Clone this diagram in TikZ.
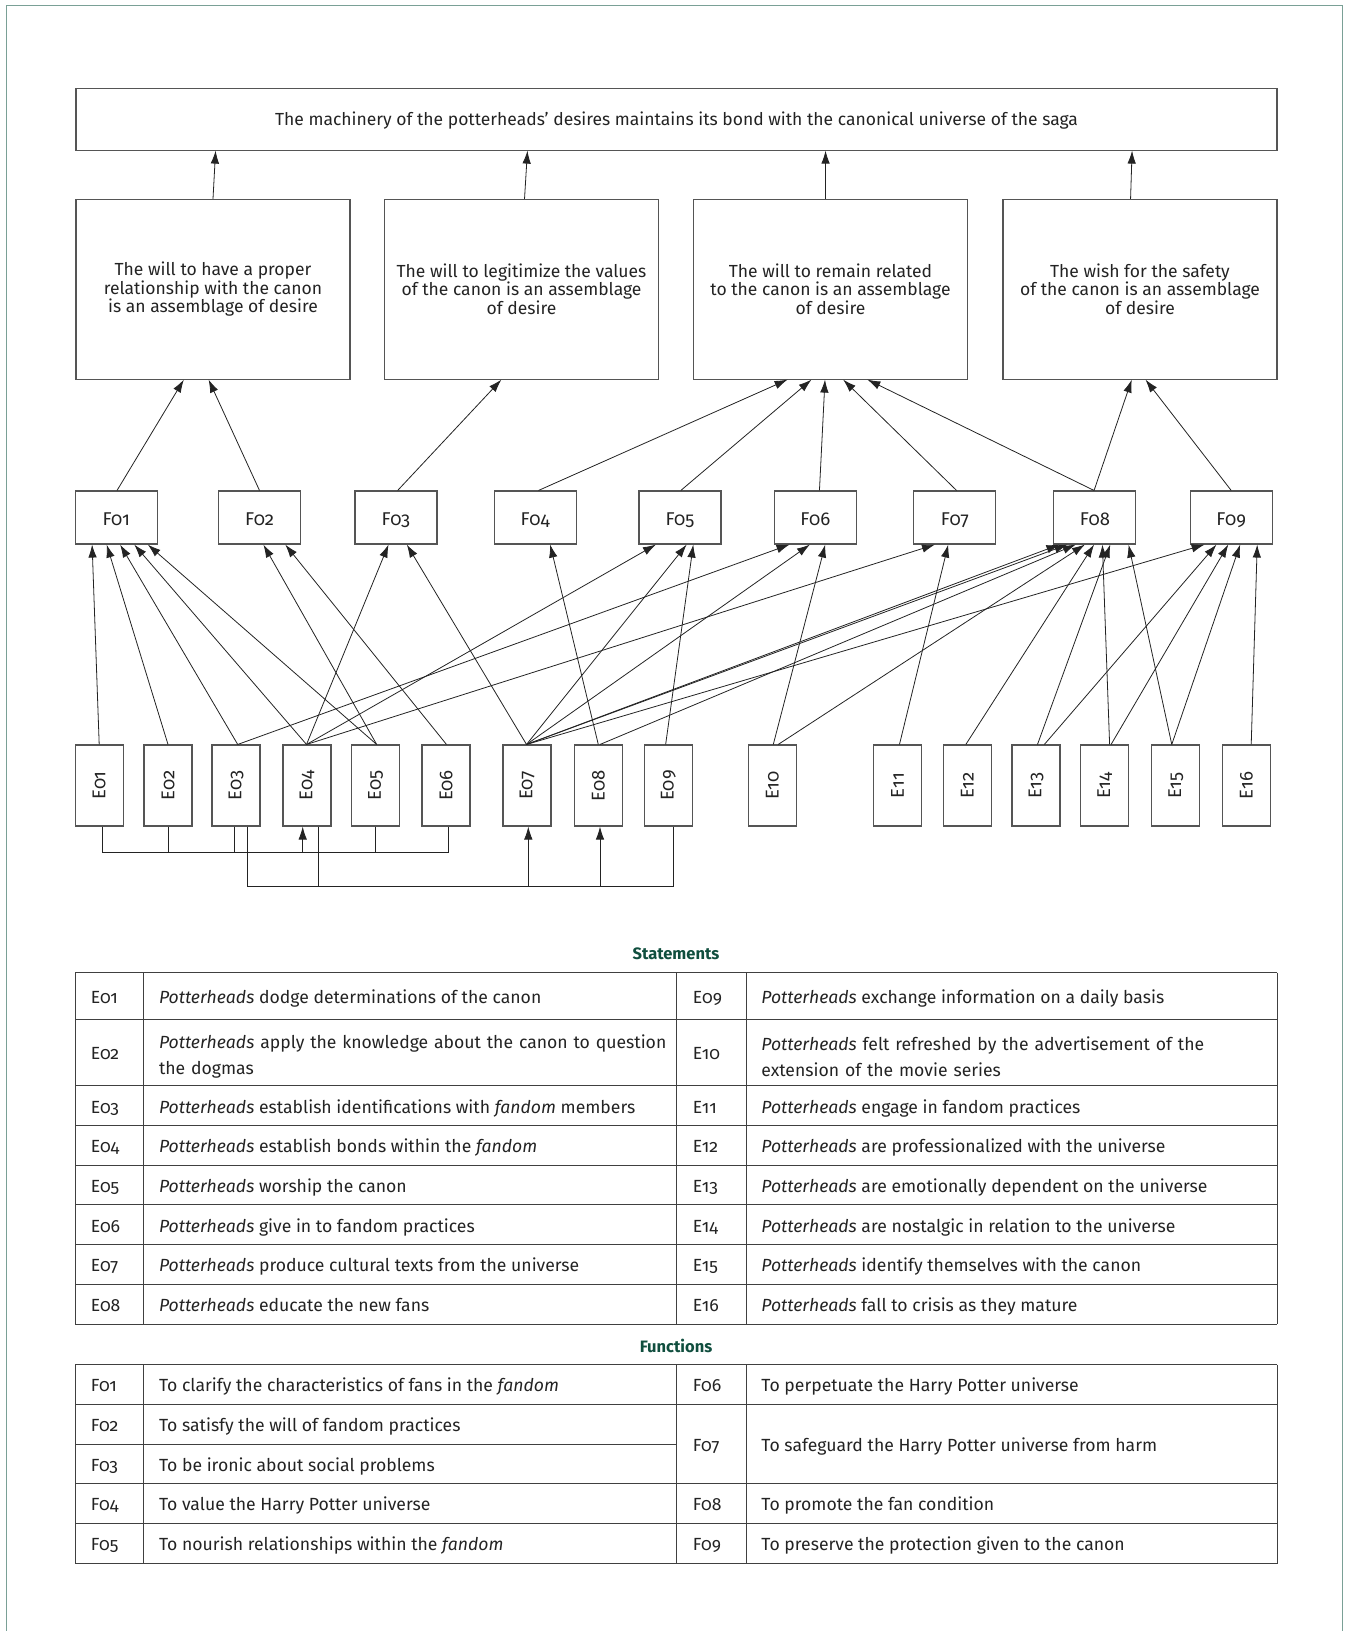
\documentclass[tikz,border=0pt]{standalone}
\usepackage{fontspec}
\setmainfont{Fira Sans}[Numbers=OldStyle]
\usetikzlibrary{arrows.meta,calc}
\definecolor{framec}{RGB}{122,160,150}
\definecolor{ttl}{RGB}{16,78,62}
\definecolor{ink}{RGB}{35,35,35}
\definecolor{boxln}{RGB}{85,85,85}
\newcommand\diafont{\fontsize{17.5}{18.6}\selectfont}
\newcommand\labfont{\fontsize{18.5}{20}\selectfont}
\newcommand\tabfont{\fontsize{17.6}{26}\selectfont}
\newcommand\mylink[4]{\draw[arr] ($(#1.north west)!#2!(#1.north east)$) -- ($(#3.south west)!#4!(#3.south east)$);}
\tikzset{
  box/.style={draw=boxln, line width=1.1pt, inner sep=0pt, text=ink, font=\diafont, align=center},
  topnode/.style={box, minimum width=1201pt, minimum height=61.7pt, text height=13pt, text depth=0pt},
  dnode/.style={box, minimum width=274pt, minimum height=179.7pt},
  fnode/.style={box, minimum width=82pt, minimum height=53pt, font=\labfont, text height=15pt, text depth=0pt},
  enode/.style={box, minimum width=48pt, minimum height=81pt},
  elab/.style={rotate=90, inner sep=0pt, text=ink, font=\labfont},
  arr/.style={draw=ink, line width=0.8pt, -{Latex[length=13pt,width=8.5pt]}},
  ln/.style={draw=ink, line width=0.8pt},
  tab/.style={draw=black!75, line width=1pt},
  tcell/.style={anchor=west, inner sep=0pt, text=ink, font=\tabfont, text height=18.5pt, text depth=3.8pt},
  tcell2/.style={anchor=west, inner sep=0pt, text=ink, font=\tabfont, align=left, text width=515pt},
  ttitle/.style={inner sep=0pt, text=ttl, font=\fontsize{16.5}{19}\selectfont\bfseries}
}
\begin{document}
\begin{tikzpicture}[x=1pt,y=-1pt]
\useasboundingbox (0,0) rectangle (1349,1631);
\draw[draw=framec, line width=1.5pt] (6.7,1631) -- (6.7,5.3) -- (1342.3,5.3) -- (1342.3,1631);

% top
\node[topnode] (T) at (676.5,119.2) {The machinery of the potterheads’ desires maintains its bond with the canonical universe of the saga};

% desire boxes
\node[dnode] (D1) at (213,289.2) {The will to have a proper\\relationship with the canon\\is an assemblage of desire};
\node[dnode] (D2) at (521.5,289.2) {The will to legitimize the values\\of the canon is an assemblage\\of desire};
\node[dnode] (D3) at (830.5,289.2) {The will to remain related\\to the canon is an assemblage\\of desire};
\node[dnode] (D4) at (1140,289.2) {The wish for the safety\\of the canon is an assemblage\\of desire};

% functions
\node[fnode] (F01) at (116.2,517.5) {F01};
\node[fnode] (F02) at (259.5,517.5) {F02};
\node[fnode] (F03) at (396,517.5) {F03};
\node[fnode] (F04) at (535.2,517.5) {F04};
\node[fnode] (F05) at (680,517.5) {F05};
\node[fnode] (F06) at (815.3,517.5) {F06};
\node[fnode] (F07) at (954.9,517.5) {F07};
\node[fnode] (F08) at (1094.9,517.5) {F08};
\node[fnode] (F09) at (1231.2,517.5) {F09};

% statements
\foreach \n/\x in {01/99.2,02/168,03/236,04/307,05/375.7,06/446,07/527,08/598.3,09/668.3,10/772.3,11/897.5,12/967.3,13/1036,14/1104.7,15/1175.7,16/1246.3}{
  \node[enode] (E\n) at (\x,785.5) {};
  \node[elab] (E\n t) at (E\n.center) {E\n};
}

% D -> top
\mylink{D1}{0.5}{T}{0.1166}
\mylink{D2}{0.511}{T}{0.376}
\mylink{D3}{0.482}{T}{0.624}
\mylink{D4}{0.4657}{T}{0.879}

% F -> D
\mylink{F01}{0.51}{D1}{0.394}
\mylink{F02}{0.5}{D1}{0.484}
\mylink{F03}{0.52}{D2}{0.427}
\mylink{F04}{0.54}{D3}{0.344}
\mylink{F05}{0.51}{D3}{0.431}
\mylink{F06}{0.55}{D3}{0.48}
\mylink{F07}{0.52}{D3}{0.546}
\mylink{F08}{0.49}{D3}{0.634}
\mylink{F08}{0.49}{D4}{0.47}
\mylink{F09}{0.5}{D4}{0.52}

% E -> F
\mylink{E01}{0.5}{F01}{0.21}
\mylink{E02}{0.5}{F01}{0.385}
\mylink{E03}{0.535}{F01}{0.547}
\mylink{E04}{0.49}{F01}{0.717}
\mylink{E05}{0.52}{F01}{0.88}
\mylink{E05}{0.52}{F02}{0.547}
\mylink{E06}{0.51}{F02}{0.81}
\mylink{E04}{0.49}{F03}{0.41}
\mylink{E07}{0.49}{F03}{0.63}
\mylink{E08}{0.5}{F04}{0.68}
\mylink{E04}{0.49}{F05}{0.21}
\mylink{E07}{0.49}{F05}{0.58}
\mylink{E09}{0.446}{F05}{0.66}
\mylink{E03}{0.535}{F06}{0.19}
\mylink{E07}{0.49}{F06}{0.435}
\mylink{E10}{0.52}{F06}{0.62}
\mylink{E04}{0.49}{F07}{0.26}
\mylink{E11}{0.54}{F07}{0.42}
\mylink{E07}{0.49}{F08}{0.073}
\mylink{E07}{0.49}{F08}{0.17}
\mylink{E08}{0.535}{F08}{0.27}
\mylink{E10}{0.62}{F08}{0.38}
\mylink{E12}{0.47}{F08}{0.49}
\mylink{E14}{0.6}{F08}{0.59}
\mylink{E13}{0.53}{F08}{0.685}
\mylink{E15}{0.42}{F08}{0.905}
\mylink{E07}{0.49}{F09}{0.18}
\mylink{E13}{0.67}{F09}{0.323}
\mylink{E14}{0.63}{F09}{0.465}
\mylink{E15}{0.42}{F09}{0.608}
\mylink{E16}{0.6}{F09}{0.813}

% brackets below statements
\draw[ln] ($(E01.south)+(3.1,0)$) |- ($(E06.south)+(2.3,26.2)$) -- ($(E06.south)+(2.3,0)$);
\draw[ln] (E02.south) -- ++(0,26.2);
\draw[ln] ($(E03.south)+(-1.7,0)$) -- ++(0,26.2);
\draw[ln] ($(E05.south)+(-0.7,0)$) -- ++(0,26.2);
\draw[arr] ($(E04.south)+(-4.3,26.2)$) -- ($(E04.south)+(-4.3,0)$);
\draw[ln] ($(E03.south)+(11,0)$) |- ($(E09.south)+(5.4,59.5)$) -- ($(E09.south)+(5.4,0)$);
\draw[ln] ($(E04.south)+(11.3,0)$) -- ++(0,59.5);
\draw[arr] ($(E07.south)+(1.3,59.5)$) -- ($(E07.south)+(1.3,0)$);
\draw[arr] ($(E08.south)+(1.7,59.5)$) -- ($(E08.south)+(1.7,0)$);

% ---------- Statements table ----------
\node[ttitle] (st) at (676,954) {Statements};
\foreach \y in {972.5,1019.3,1085.8,1125.5,1165.2,1204.8,1244.5,1284.5,1324}{
  \draw[tab] (75,\y) -- (1277,\y);
}
\foreach \x in {75,143.5,676.3,746,1277}{
  \draw[tab] (\x,972.5) -- (\x,1324);
}
\node[tcell] (sE01) at (90.6,995.9) {E01};
\node[tcell] (sE02) at (90.6,1052.6) {E02};
\node[tcell] (sE03) at (90.6,1105.7) {E03};
\node[tcell] (sE04) at (90.6,1145.4) {E04};
\node[tcell] (sE05) at (90.6,1185) {E05};
\node[tcell] (sE06) at (90.6,1224.7) {E06};
\node[tcell] (sE07) at (90.6,1264.5) {E07};
\node[tcell] (sE08) at (90.6,1304.3) {E08};
\node[tcell] (dE01) at (158.8,995.9) {\textit{Potterheads} dodge determinations of the canon};
\node[tcell2] (dE02) at (158.8,1056.5) {\textit{Potterheads} apply the knowledge about the canon to question\\the dogmas};
\node[tcell] (dE03) at (158.8,1105.7) {\textit{Potterheads} establish identifications with \textit{fandom} members};
\node[tcell] (dE04) at (158.8,1145.4) {\textit{Potterheads} establish bonds within the \textit{fandom}};
\node[tcell] (dE05) at (158.8,1185) {\textit{Potterheads} worship the canon};
\node[tcell] (dE06) at (158.8,1224.7) {\textit{Potterheads} give in to fandom practices};
\node[tcell] (dE07) at (158.8,1264.5) {\textit{Potterheads} produce cultural texts from the universe};
\node[tcell] (dE08) at (158.8,1304.3) {\textit{Potterheads} educate the new fans};
\node[tcell] (sE09) at (692.7,995.9) {E09};
\node[tcell] (sE10) at (692.7,1052.6) {E10};
\node[tcell] (sE11) at (692.7,1105.7) {E11};
\node[tcell] (sE12) at (692.7,1145.4) {E12};
\node[tcell] (sE13) at (692.7,1185) {E13};
\node[tcell] (sE14) at (692.7,1224.7) {E14};
\node[tcell] (sE15) at (692.7,1264.5) {E15};
\node[tcell] (sE16) at (692.7,1304.3) {E16};
\node[tcell] (dE09) at (761.2,995.9) {\textit{Potterheads} exchange information on a daily basis};
\node[tcell2] (dE10) at (761.2,1056.5) {\textit{Potterheads} felt refreshed by the advertisement of the\\extension of the movie series};
\node[tcell] (dE11) at (761.2,1105.7) {\textit{Potterheads} engage in fandom practices};
\node[tcell] (dE12) at (761.2,1145.4) {\textit{Potterheads} are professionalized with the universe};
\node[tcell] (dE13) at (761.2,1185) {\textit{Potterheads} are emotionally dependent on the universe};
\node[tcell] (dE14) at (761.2,1224.7) {\textit{Potterheads} are nostalgic in relation to the universe};
\node[tcell] (dE15) at (761.2,1264.5) {\textit{Potterheads} identify themselves with the canon};
\node[tcell] (dE16) at (761.2,1304.3) {\textit{Potterheads} fall to crisis as they mature};

% ---------- Functions table ----------
\node[ttitle] (ft) at (676,1345.5) {Functions};
\foreach \y in {1364.5,1404,1483.5,1523.5,1563.5}{
  \draw[tab] (75,\y) -- (1277,\y);
}
\draw[tab] (75,1444) -- (676.3,1444);
\foreach \x in {75,143.5,676.3,746,1277}{
  \draw[tab] (\x,1364.5) -- (\x,1563.5);
}
\node[tcell] (sF01) at (90.6,1384.3) {F01};
\node[tcell] (sF02) at (90.6,1424) {F02};
\node[tcell] (sF03) at (90.6,1463.8) {F03};
\node[tcell] (sF04) at (90.6,1503.5) {F04};
\node[tcell] (sF05) at (90.6,1543.5) {F05};
\node[tcell] (dF01) at (158.8,1384.3) {To clarify the characteristics of fans in the \textit{fandom}};
\node[tcell] (dF02) at (158.8,1424) {To satisfy the will of fandom practices};
\node[tcell] (dF03) at (158.8,1463.8) {To be ironic about social problems};
\node[tcell] (dF04) at (158.8,1503.5) {To value the Harry Potter universe};
\node[tcell] (dF05) at (158.8,1543.5) {To nourish relationships within the \textit{fandom}};
\node[tcell] (sF06) at (692.7,1384.3) {F06};
\node[tcell] (sF07) at (692.7,1443.8) {F07};
\node[tcell] (sF08) at (692.7,1503.5) {F08};
\node[tcell] (sF09) at (692.7,1543.5) {F09};
\node[tcell] (dF06) at (761.2,1384.3) {To perpetuate the Harry Potter universe};
\node[tcell] (dF07) at (761.2,1443.8) {To safeguard the Harry Potter universe from harm};
\node[tcell] (dF08) at (761.2,1503.5) {To promote the fan condition};
\node[tcell] (dF09) at (761.2,1543.5) {To preserve the protection given to the canon};
\end{tikzpicture}
\end{document}
